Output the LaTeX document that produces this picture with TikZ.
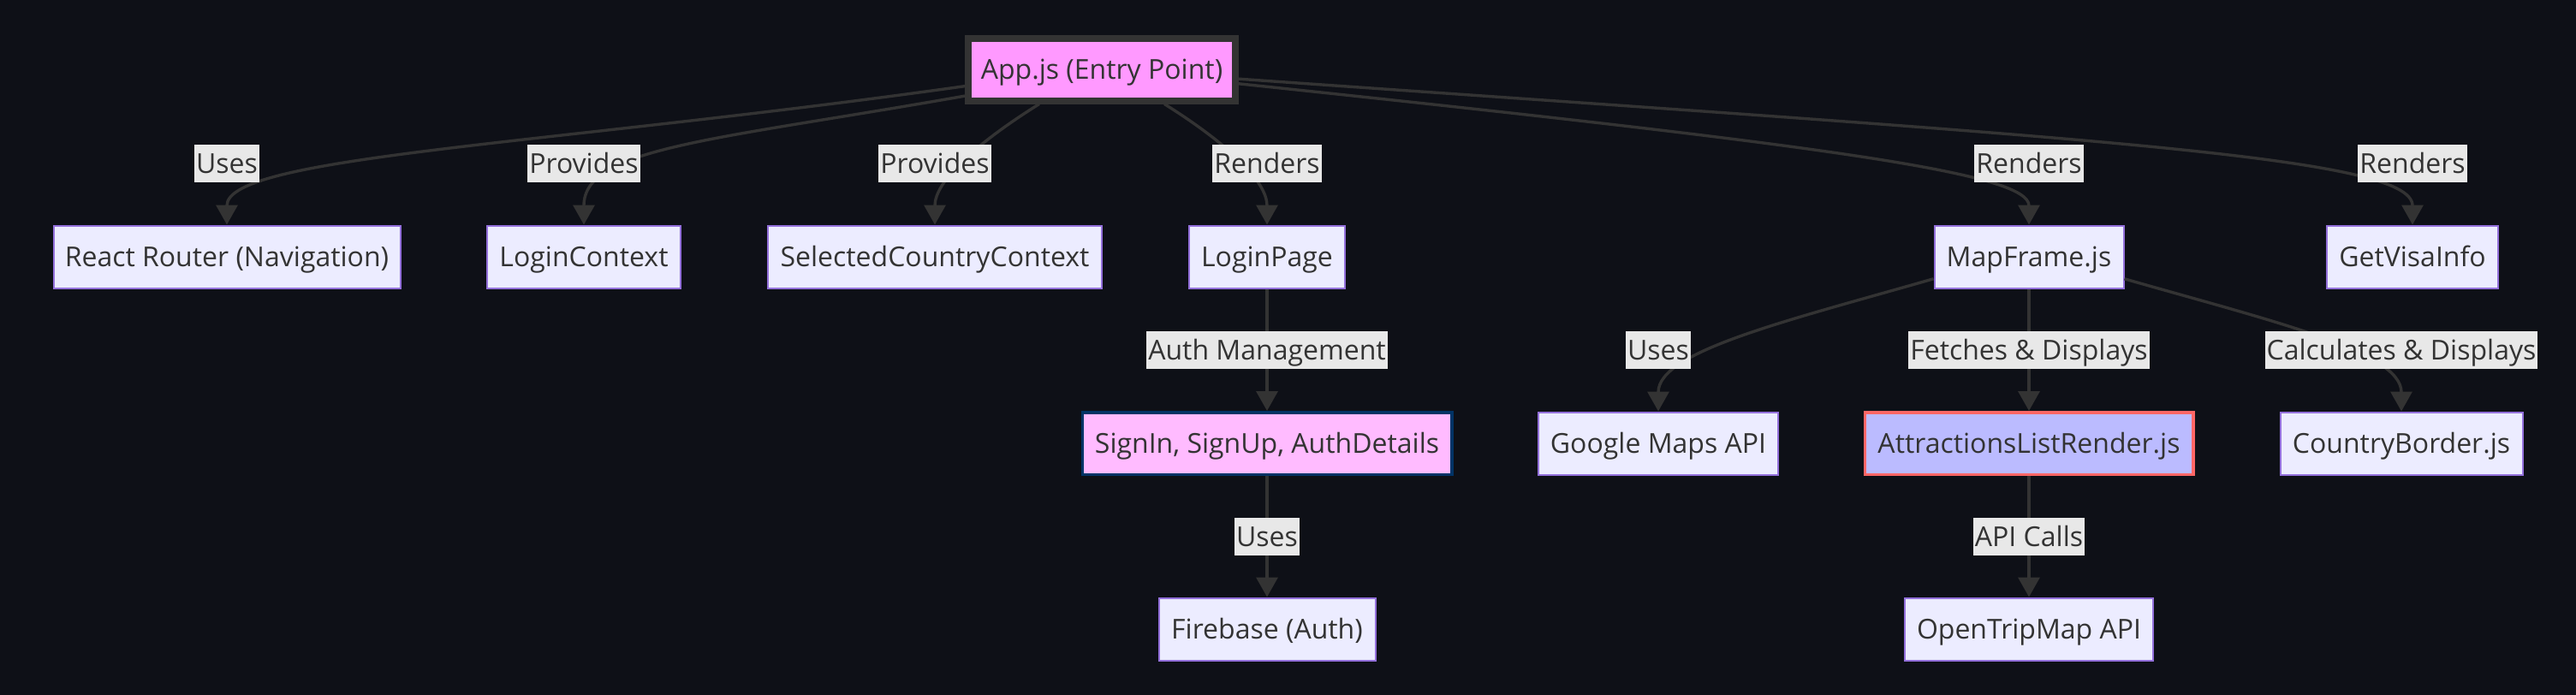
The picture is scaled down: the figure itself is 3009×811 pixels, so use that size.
\documentclass[tikz,border=0pt]{standalone}
\usepackage{fontspec}
\setmainfont{Open Sans}
\usetikzlibrary{arrows.meta}
\definecolor{bgcol}{HTML}{0E1017}
\definecolor{boxfill}{HTML}{ECECFF}
\definecolor{boxline}{HTML}{9370DB}
\definecolor{txtcol}{HTML}{333333}
\definecolor{edgecol}{HTML}{333333}
\definecolor{lblbg}{HTML}{E8E8E8}
\definecolor{appfill}{HTML}{FF99FF}
\definecolor{authfill}{HTML}{FFBBFF}
\definecolor{authline}{HTML}{003366}
\definecolor{alrfill}{HTML}{BBBBFF}
\definecolor{alrline}{HTML}{FF6666}
\begin{document}
\begin{tikzpicture}[x=0.5pt,y=0.5pt,
	box/.style={draw=boxline,fill=boxfill,line width=1pt,text=txtcol,minimum height=36.5pt,inner sep=0pt,text height=13pt,text depth=1.6pt,font=\fontsize{16}{19}\selectfont},
	lbl/.style={fill=lblbg,text=txtcol,inner xsep=1pt,inner ysep=0pt,minimum height=22pt,text height=13pt,text depth=1.6pt,font=\fontsize{16}{19}\selectfont},
	edge/.style={draw=edgecol,line width=1.7pt,-{Triangle[length=11.5pt,width=12.5pt]}}]
		\useasboundingbox (0,0) rectangle (3009,-811);
		\fill[bgcol] (-4,4) rectangle (3013,-815);
		% top
		\node[box,fill=appfill,draw=txtcol,line width=4pt,minimum width=156pt] (app) at (1287,-81) {App.js (Entry Point)};
		% first row
		\node[box,minimum width=202.5pt] (rr) at (265,-300) {React Router (Navigation)};
		\node[box,minimum width=113pt] (lc) at (682,-300) {LoginContext};
		\node[box,minimum width=195pt] (scc) at (1092,-300) {SelectedCountryContext};
		\node[box,minimum width=91pt] (lp) at (1480,-300) {LoginPage};
		\node[box,minimum width=110.5pt] (mf) at (2370,-300) {MapFrame.js};
		\node[box,minimum width=100pt] (gv) at (2818,-300) {GetVisaInfo};
		% second row
		\node[box,fill=authfill,draw=authline,line width=1.75pt,minimum width=215.75pt,minimum height=36.25pt] (auth) at (1480,-518) {SignIn, SignUp, AuthDetails};
		\node[box,minimum width=140pt] (gm) at (1937,-518) {Google Maps API};
		\node[box,fill=alrfill,draw=alrline,line width=1.75pt,minimum width=191.75pt,minimum height=36.25pt] (alr) at (2370,-518) {AttractionsListRender.js};
		\node[box,minimum width=141.5pt] (cb) at (2805,-518) {CountryBorder.js};
		% third row
		\node[box,minimum width=126.5pt] (fb) at (1480,-735) {Firebase (Auth)};
		\node[box,minimum width=145pt] (otm) at (2370,-735) {OpenTripMap API};
		% edges
		\draw[edge] (app.187) .. controls +(188:500) and +(90:80) .. (rr.north);
		\draw[edge] (app.191) .. controls +(190:300) and +(90:90) .. (lc.north);
		\draw[edge] (app.209) .. controls +(212:90) and +(90:50) .. (scc.north);
		\draw[edge] (app.331) .. controls +(328:90) and +(90:50) .. (lp.north);
		\draw[edge] (app.354) .. controls +(-6:700) and +(90:60) .. (mf.north);
		\draw[edge] (app.356) .. controls +(-4:1000) and +(90:80) .. (gv.north);
		\draw[edge] (lp) -- (auth);
		\draw[edge] (auth) -- (fb);
		\draw[edge] (mf.193) .. controls +(196:180) and +(90:70) .. (gm.north);
		\draw[edge] (mf) -- (alr);
		\draw[edge] (mf.347) .. controls +(-16:180) and +(90:70) .. (cb.north);
		\draw[edge] (alr) -- (otm);
		% labels
		\node[lbl] (l1) at (265,-191) {Uses};
		\node[lbl] (l2) at (682,-191) {Provides};
		\node[lbl] (l3) at (1092,-191) {Provides};
		\node[lbl] (l4) at (1480,-191) {Renders};
		\node[lbl] (l5) at (2370,-191) {Renders};
		\node[lbl] (l6) at (2818,-191) {Renders};
		\node[lbl] (l7) at (1480,-409) {Auth Management};
		\node[lbl] (l8) at (1937,-409) {Uses};
		\node[lbl] (l9) at (2370,-409) {Fetches \& Displays};
		\node[lbl] (l10) at (2805,-409) {Calculates \& Displays};
		\node[lbl] (l11) at (1480,-627) {Uses};
		\node[lbl] (l12) at (2370,-627) {API Calls};
\end{tikzpicture}
\end{document}
